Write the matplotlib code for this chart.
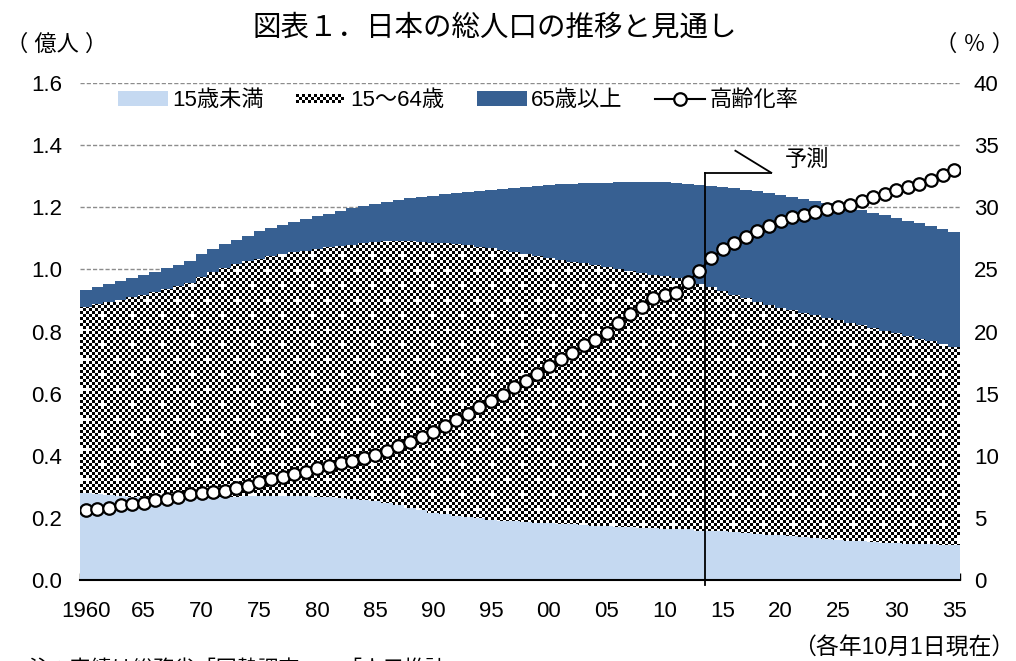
import numpy as np
import matplotlib.pyplot as plt
from matplotlib.path import Path
from matplotlib.patches import Patch, Rectangle
from matplotlib.collections import PatchCollection
from matplotlib.legend_handler import HandlerBase
from matplotlib.lines import Line2D

plt.rcParams['font.family'] = ['Liberation Sans', 'Noto Sans CJK JP']

# 人口（億人）と高齢化率（％）、1960～2035年
years = np.arange(1960, 2036)

age_0_14 = [0.281, 0.277, 0.274, 0.270, 0.268, 0.266, 0.264, 0.263, 0.263, 0.263,
            0.264, 0.265, 0.267, 0.268, 0.269, 0.270, 0.270, 0.270, 0.270, 0.269,
            0.268, 0.266, 0.264, 0.261, 0.258, 0.255, 0.248, 0.240, 0.232, 0.224,
            0.217, 0.212, 0.207, 0.202, 0.198, 0.194, 0.191, 0.189, 0.187, 0.185,
            0.183, 0.181, 0.179, 0.177, 0.175, 0.174, 0.172, 0.171, 0.169, 0.167,
            0.165, 0.164, 0.164, 0.159, 0.159, 0.158, 0.155, 0.152, 0.149, 0.146,
            0.144, 0.142, 0.139, 0.136, 0.132, 0.128, 0.126, 0.124, 0.121, 0.119,
            0.118, 0.117, 0.116, 0.115, 0.114, 0.113]

age_15_64 = [0.597, 0.610, 0.622, 0.633, 0.642, 0.652, 0.662, 0.673, 0.683, 0.693,
             0.711, 0.725, 0.737, 0.748, 0.757, 0.765, 0.772, 0.779, 0.785, 0.791,
             0.798, 0.805, 0.812, 0.819, 0.827, 0.834, 0.843, 0.851, 0.858, 0.864,
             0.869, 0.872, 0.874, 0.875, 0.875, 0.875, 0.872, 0.868, 0.863, 0.858,
             0.853, 0.849, 0.846, 0.842, 0.838, 0.833, 0.829, 0.824, 0.820, 0.816,
             0.813, 0.807, 0.799, 0.794, 0.783, 0.772, 0.764, 0.755, 0.747, 0.740,
             0.733, 0.726, 0.721, 0.716, 0.712, 0.708, 0.702, 0.696, 0.690, 0.684,
             0.677, 0.669, 0.661, 0.653, 0.645, 0.637]

age_65 = [0.056, 0.057, 0.058, 0.060, 0.062, 0.064, 0.066, 0.067, 0.069, 0.071,
          0.074, 0.075, 0.077, 0.080, 0.083, 0.087, 0.091, 0.094, 0.098, 0.101,
          0.105, 0.108, 0.112, 0.116, 0.118, 0.122, 0.126, 0.132, 0.139, 0.145,
          0.151, 0.158, 0.166, 0.173, 0.180, 0.188, 0.197, 0.206, 0.216, 0.225,
          0.235, 0.244, 0.251, 0.259, 0.266, 0.272, 0.279, 0.286, 0.293, 0.298,
          0.303, 0.308, 0.313, 0.320, 0.328, 0.336, 0.342, 0.349, 0.355, 0.360,
          0.363, 0.366, 0.368, 0.369, 0.370, 0.370, 0.371, 0.371, 0.372, 0.372,
          0.371, 0.371, 0.371, 0.371, 0.371, 0.371]

aging_rate = [5.6, 5.7, 5.8, 6.0, 6.1, 6.2, 6.4, 6.5, 6.7, 6.9,
              7.0, 7.1, 7.2, 7.4, 7.6, 7.9, 8.1, 8.3, 8.5, 8.7,
              9.0, 9.2, 9.4, 9.6, 9.8, 10.1, 10.4, 10.8, 11.1, 11.5,
              11.9, 12.4, 12.9, 13.4, 13.9, 14.4, 14.9, 15.5, 16.0, 16.6,
              17.2, 17.8, 18.3, 18.9, 19.3, 19.9, 20.7, 21.4, 22.0, 22.7,
              22.9, 23.1, 24.0, 24.9, 25.9, 26.6, 27.1, 27.6, 28.1, 28.5,
              28.9, 29.2, 29.4, 29.6, 29.85, 30.0, 30.2, 30.5, 30.8, 31.1,
              31.4, 31.6, 31.9, 32.2, 32.6, 33.0]

tick_years = [1960, 1965, 1970, 1975, 1980, 1985, 1990, 1995, 2000,
              2005, 2010, 2015, 2020, 2025, 2030, 2035]
tick_labels = ['1960', '65', '70', '75', '80', '85', '90', '95', '00',
               '05', '10', '15', '20', '25', '30', '35']
forecast_start = 2013.5

light = '#C5D9F1'
dark = '#376092'


def checker_pattern(nrow, ncol, period=10):
    ii, jj = np.meshgrid(np.arange(nrow), np.arange(ncol), indexing='ij')
    pat = ((ii + jj) % 2 == 0).astype(float)
    for ci, cj in [(2, 2), (7, 7)]:
        c = (ii % period == ci) & (jj % period == cj)
        plus = (c | np.roll(c, 1, 0) | np.roll(c, -1, 0)
                | np.roll(c, 1, 1) | np.roll(c, -1, 1))
        pat[plus] = 0
    return pat


class CheckerKey:
    pass


class CheckerHandler(HandlerBase):
    def create_artists(self, legend, orig_handle, xdescent, ydescent,
                       width, height, fontsize, trans):
        cell = 3 * 72 / 100
        ncell = int(width // cell)
        y0 = -ydescent + (height - 3 * cell) / 2
        rects = []
        for r in range(3):
            for c in range(ncell):
                if (r + c) % 2 == 0:
                    rects.append(Rectangle((-xdescent + c * cell, y0 + r * cell), cell, cell))
        pc = PatchCollection(rects, facecolor='black', edgecolor='none', transform=trans)
        return [pc]


fig = plt.figure(figsize=(10.16, 6.61), dpi=100)
ax = fig.add_axes([80 / 1016, 1 - 580 / 661, 880 / 1016, 497 / 661])

u = np.array(age_0_14)
w = np.array(age_15_64)
o = np.array(age_65)

ax.bar(years, u, width=1.0, color=light, linewidth=0, antialiased=False, zorder=2)
ax.bar(years, w, bottom=u, width=1.0, color='white', linewidth=0, antialiased=False, zorder=2)
ax.bar(years, o, bottom=u + w, width=1.0, color=dark, linewidth=0, antialiased=False, zorder=2)

# 15～64歳の市松模様（棒の外形でクリップ）
im = ax.imshow(checker_pattern(166, 293), cmap='gray_r', vmin=0, vmax=1,
               extent=(1959.5, 2035.5, 0, 1.6), aspect='auto',
               interpolation='nearest', zorder=2.5)
top = u + w
verts = []
for k in range(len(years)):
    verts += [(years[k] - 0.5, top[k]), (years[k] + 0.5, top[k])]
for k in range(len(years) - 1, -1, -1):
    verts += [(years[k] + 0.5, u[k]), (years[k] - 0.5, u[k])]
verts.append(verts[0])
im.set_clip_path(Path(np.array(verts), closed=True), ax.transData)

ax.set_xlim(1959.5, 2035.5)
ax.set_ylim(0, 1.6)
ax.set_yticks(np.arange(0, 1.61, 0.2))
ax.set_yticklabels(['%.1f' % v for v in np.arange(0, 1.61, 0.2)])
ax.yaxis.grid(True, color='#8c8c8c', linestyle=(0, (3, 1.5)), linewidth=1.0)
ax.set_axisbelow(True)

ax.set_xticks(tick_years)
ax.set_xticklabels(tick_labels)
ax.set_xticks(np.arange(1959.5, 2036, 1.0), minor=True)
ax.tick_params(axis='x', which='major', length=0, pad=15, labelsize=16)
ax.tick_params(axis='x', which='minor', direction='in', length=5, width=1)
ax.tick_params(axis='y', length=0, pad=13, labelsize=16)
for s in ['left', 'right', 'top']:
    ax.spines[s].set_visible(False)
ax.spines['bottom'].set_linewidth(1.5)
ax.spines['bottom'].set_zorder(4)

# 予測の区切り線
ax.plot([forecast_start, forecast_start], [-0.015, 1.311], color='black', lw=1.3,
        clip_on=False, zorder=3)
ax.plot([forecast_start, 2019.2], [1.311, 1.311], color='black', lw=1.3, zorder=3)
ax.plot([2019.2, 2016.1], [1.311, 1.382], color='black', lw=1.3, zorder=3)
ax.text(2022.3, 1.352, '予測', fontsize=16, ha='center', va='center')

ax2 = ax.twinx()
ax2.set_ylim(0, 40)
ax2.set_yticks(range(0, 41, 5))
ax2.tick_params(axis='y', length=0, pad=10, labelsize=16)
for s in ax2.spines.values():
    s.set_visible(False)
ax2.plot(years, aging_rate, color='black', lw=1.5, marker='o', ms=9,
         mfc='white', mec='black', mew=1.6, zorder=5)

handles = [Patch(facecolor=light), CheckerKey(), Patch(facecolor=dark),
           Line2D([], [], color='black', lw=1.5, marker='o', ms=9,
                  mfc='white', mec='black', mew=1.6)]
labels = ['15歳未満', '15～64歳', '65歳以上', '高齢化率']
ax2.legend(handles, labels, handler_map={CheckerKey: CheckerHandler()},
           ncol=4, loc='center left', bbox_to_anchor=(0.043, 0.964),
           frameon=False, fontsize=16, handlelength=2.25, handletextpad=0.2,
           columnspacing=1.45, borderpad=0, borderaxespad=0)

fig.text(495 / 1016, 1 - 28 / 661, '図表１．日本の総人口の推移と見通し',
         ha='center', va='center', fontsize=20.5)
fig.text(6 / 1016, 1 - 45 / 661, '（ 億人 ）', ha='left', va='center', fontsize=16)
fig.text(1014 / 1016, 1 - 45 / 661, '（ ％ ）', ha='right', va='center', fontsize=16)
fig.text(1014 / 1016, 1 - 648 / 661, '（各年10月1日現在）', ha='right', va='center', fontsize=16.5)
fig.text(28 / 1016, 1 - 669 / 661, '注：実績は総務省「国勢調査」、「人口推計」', ha='left',
         va='center', fontsize=15)

fig.savefig('out.png', dpi=100)
